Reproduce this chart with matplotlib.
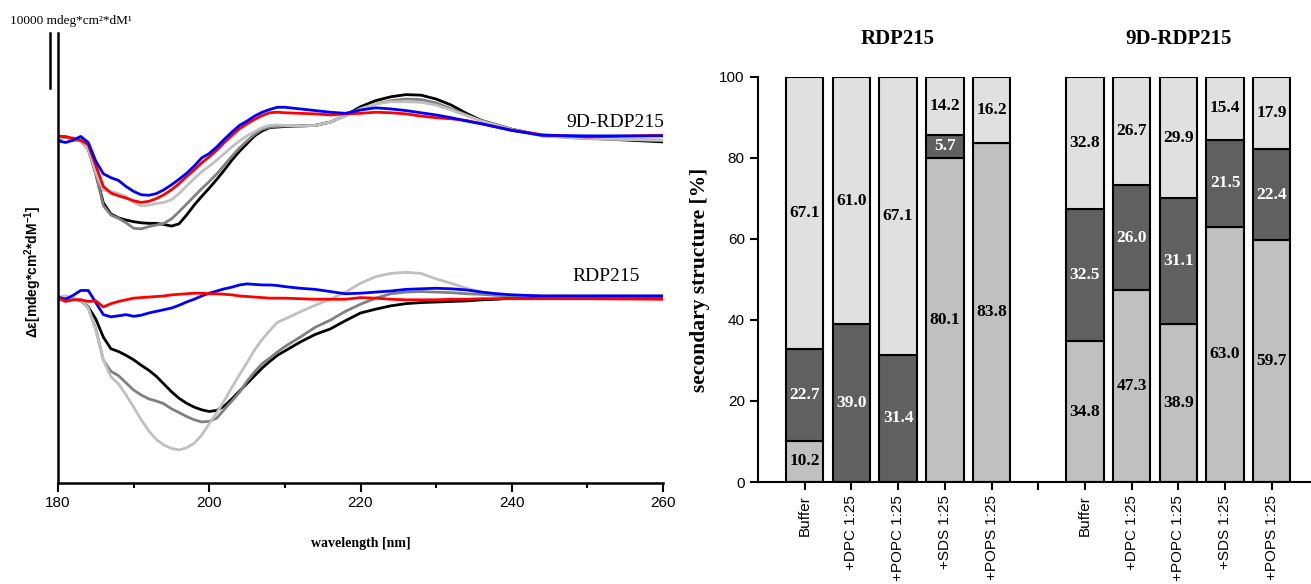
import matplotlib
matplotlib.use('Agg')
import matplotlib.pyplot as plt
from matplotlib.ticker import MultipleLocator

plt.rcParams['font.family'] = ['Liberation Sans', 'DejaVu Sans']
plt.rcParams['mathtext.fontset'] = 'custom'
plt.rcParams['mathtext.rm'] = 'Liberation Sans'
plt.rcParams['mathtext.bf'] = 'Liberation Sans:bold'
SERIF = ['Liberation Serif', 'DejaVu Serif']

# CD spectra, values in 1000 mdeg*cm2*dM-1 (relative to each group's baseline)
wavelength = [180, 181, 182, 183, 184, 185, 186, 187, 188, 189, 190, 191, 192, 193, 194,
              195, 196, 197, 198, 199, 200, 201, 202, 203, 204, 205, 206, 207, 208, 209,
              210, 212, 214, 216, 218, 220, 222, 224, 226, 228, 230, 232, 234, 236, 238,
              240, 244, 250, 260]

rdp_black = [-0.3, 0, -0.3, -0.6, -1.8, -4, -7.3, -9.4, -9.9, -10.6, -11.4, -12.4, -13.3, -14.4, -15.8,
             -17.2, -18.4, -19.3, -20, -20.5, -20.8, -20.6, -19.8, -18.5, -17.1, -15.7, -14.3, -12.9, -11.7, -10.6,
             -9.8, -8.2, -6.8, -5.8, -4.3, -2.9, -2.2, -1.6, -1.2, -1, -0.9, -0.8, -0.7, -0.5, -0.4,
             -0.2, -0.2, -0.2, -0.2]
rdp_dgray = [-0.3, 0, -0.3, -0.6, -2, -5.8, -11.5, -13.5, -14.3, -15.6, -16.9, -17.8, -18.5, -18.9, -19.4,
             -20.3, -21, -21.7, -22.3, -22.7, -22.6, -22, -20.4, -18.9, -17.3, -15.3, -13.6, -12.1, -11.1, -10,
             -9, -7.3, -5.5, -4.2, -2.6, -1.3, -0.2, 0.6, 0.9, 1, 0.9, 0.8, 0.6, 0.5, 0.3,
             0.2, 0.2, 0.2, 0.2]
rdp_lgray = [0, 0.2, -0.2, -0.4, -2, -6, -11.5, -14.5, -15.8, -17.8, -20, -22.3, -24.3, -25.9, -26.9,
             -27.5, -27.8, -27.4, -26.6, -25.1, -23, -21, -18.8, -16.4, -14.1, -11.9, -9.6, -7.7, -6.1, -4.6,
             -4, -2.7, -1.5, -0.4, 0.9, 2.5, 3.7, 4.3, 4.5, 4.3, 3.3, 2.5, 1.6, 0.9, 0.6,
             0.4, 0.2, 0.2, 0.2]
rdp_blue = [0, -0.4, 0.3, 1.2, 1.2, -1, -3.2, -3.6, -3.4, -3.2, -3.5, -3.3, -2.9, -2.6, -2.3,
            -2, -1.5, -0.9, -0.4, 0.2, 0.7, 1.1, 1.5, 1.8, 2.2, 2.4, 2.3, 2.2, 2.2, 2.1,
            1.9, 1.6, 1.4, 1, 0.6, 0.7, 0.9, 1.1, 1.4, 1.5, 1.6, 1.5, 1.3, 0.9, 0.6,
            0.4, 0.2, 0.2, 0.2]
rdp_red = [-0.2, -0.8, -0.5, -0.5, -0.8, -0.7, -1.8, -1.2, -0.8, -0.5, -0.2, -0.1, 0, 0.1, 0.2,
           0.4, 0.5, 0.6, 0.7, 0.7, 0.6, 0.6, 0.5, 0.4, 0.2, 0.1, 0, -0.1, -0.2, -0.2,
           -0.2, -0.3, -0.4, -0.4, -0.4, -0.1, -0.2, -0.4, -0.5, -0.5, -0.5, -0.4, -0.4, -0.3, -0.3,
           -0.3, -0.3, -0.3, -0.4]

d9_black = [0, 0.3, -0.3, -0.4, -2, -6.5, -11.8, -13.8, -14.5, -14.9, -15.2, -15.4, -15.5, -15.5, -15.7,
            -16, -15.6, -14, -12.2, -10.6, -9.1, -7.5, -5.8, -4, -2.4, -1, 0.4, 1.3, 1.9, 2,
            2.1, 2.2, 2.3, 2.9, 4.1, 5.7, 6.8, 7.5, 7.9, 7.8, 7.1, 6, 4.5, 3.2, 2.4,
            1.6, 0.5, 0, -0.7]
d9_dgray = [-0.3, 0.2, -0.3, -0.5, -2, -6.5, -12.3, -14, -14.6, -15.4, -16.4, -16.5, -16.1, -15.8, -15.5,
            -14.7, -13.4, -12, -10.6, -9.2, -7.9, -6.5, -4.9, -3.3, -1.8, -0.5, 0.7, 1.6, 2, 2.1,
            2.2, 2.2, 2.3, 2.9, 4.1, 5.3, 6.2, 6.8, 7.1, 7, 6.4, 5.3, 4.2, 3.1, 2.4,
            1.6, 0.4, -0.1, -0.4]
d9_lgray = [0, 0.2, -0.2, -0.4, -2, -6.3, -9.5, -9.7, -10.1, -10.6, -11.7, -12.3, -12.2, -11.9, -11.7,
            -11.2, -10.1, -8.7, -7.4, -6.1, -5.1, -4, -2.8, -1.6, -0.5, 0.4, 1.2, 1.9, 2.3, 2.4,
            2.3, 2.2, 2.3, 2.9, 4.1, 5.3, 6.2, 6.6, 6.6, 6.5, 6, 5.1, 4.1, 3.1, 2.3,
            1.5, 0.4, -0.1, -0.4]
d9_blue = [-0.5, -0.8, -0.4, 0.3, -0.8, -4.2, -6.5, -7.2, -7.7, -8.8, -9.7, -10.3, -10.4, -10.1, -9.4,
           -8.5, -7.5, -6.4, -5.1, -3.6, -2.8, -1.6, -0.2, 1.1, 2.3, 3.1, 4, 4.7, 5.2, 5.6,
           5.6, 5.3, 5, 4.7, 4.5, 5.1, 5.5, 5.3, 5, 4.6, 4.2, 3.7, 3.1, 2.6, 2,
           1.4, 0.5, 0.4, 0.4]
d9_red = [0.4, 0.2, 0, -0.4, -1.2, -5, -8.8, -10, -10.5, -10.9, -11.4, -11.7, -11.5, -11, -10.3,
          -9.4, -8.3, -7, -5.8, -4.5, -3.4, -2.2, -0.8, 0.5, 1.7, 2.6, 3.4, 4.1, 4.6, 4.7,
          4.6, 4.5, 4.4, 4.2, 4.4, 4.5, 4.7, 4.6, 4.4, 4, 3.7, 3.5, 3.2, 2.6, 2,
          1.4, 0.6, 0.2, 0.5]

# secondary structure [%]
categories = ['Buffer', '+DPC 1:25', '+POPC 1:25', '+SDS 1:25', '+POPS 1:25']
rdp_bottom = [10.2, 0, 0, 80.1, 83.8]
rdp_mid = [22.7, 39.0, 31.4, 5.7, 0]
rdp_top = [67.1, 61.0, 67.1, 14.2, 16.2]
d9_bottom = [34.8, 47.3, 38.9, 63.0, 59.7]
d9_mid = [32.5, 26.0, 31.1, 21.5, 22.4]
d9_top = [32.8, 26.7, 29.9, 15.4, 17.9]

W, H = 1311, 584
fig = plt.figure(figsize=(W / 100, H / 100), dpi=100)

# ---------- left: CD spectra ----------
ax1 = fig.add_axes([58 / W, 1 - 483 / H, 605 / W, 450 / H])
rdp_base = 33.8
d9_base = 62.7
grays = ['#000000', '#808080', '#c0c0c0']
for vals, c in zip([rdp_black, rdp_dgray, rdp_lgray, rdp_blue, rdp_red],
                   grays + ['#0000ff', '#ff0000']):
    ax1.plot(wavelength, [rdp_base + v for v in vals], color=c, lw=2.0)
for vals, c in zip([d9_black, d9_dgray, d9_lgray, d9_red, d9_blue],
                   grays + ['#ff0000', '#0000ff']):
    ax1.plot(wavelength, [d9_base + v for v in vals], color=c, lw=2.0)

ax1.set_xlim(180, 260)
ax1.set_ylim(0, 81.8)
ax1.spines['top'].set_visible(False)
ax1.spines['right'].set_visible(False)
ax1.spines['left'].set_linewidth(1.8)
ax1.spines['bottom'].set_linewidth(1.8)
ax1.set_yticks([])
ax1.xaxis.set_major_locator(MultipleLocator(20))
ax1.xaxis.set_minor_locator(MultipleLocator(10))
ax1.tick_params(axis='x', which='major', length=6.5, width=1.5, labelsize=11, pad=3)
ax1.tick_params(axis='x', which='minor', length=3.5, width=1.5)
ax1.set_xlabel('wavelength [nm]', family=SERIF, fontweight='bold', fontsize=10, labelpad=19)

# scale bar: 10000 mdeg*cm2*dM-1
ax1.plot([178.94, 178.94], [81.8, 71.8], color='k', lw=1.8, clip_on=False)
fig.text(10 / W, 1 - 21 / H, '10000 mdeg*cm²*dM¹', family=SERIF, fontsize=9.5,
         ha='left', va='center')
ax1.text(253.7, 65.6, '9D-RDP215', family=SERIF, fontsize=14, ha='center', va='center')
ax1.text(252.5, 37.5, 'RDP215', family=SERIF, fontsize=14, ha='center', va='center')
fig.text(33 / W, 1 - 272 / H, r'Δε[mdeg*cm$^{\mathbf{2}}$*dM$^{\mathbf{-1}}$]',
         rotation=90, fontweight='bold', fontsize=10, ha='center', va='center')

# ---------- right: stacked bars ----------
ax2 = fig.add_axes([758 / W, 1 - 482 / H, (W - 758) / W, 405 / H])
c_bottom, c_mid, c_top = '#c0c0c0', '#606060', '#e0e0e0'
groups = [(0, rdp_bottom, rdp_mid, rdp_top, 'RDP215'),
          (6, d9_bottom, d9_mid, d9_top, '9D-RDP215')]
for start, bot, mid, top, title in groups:
    xs = [start + i for i in range(len(categories))]
    rest = [100 - b - m for b, m in zip(bot, mid)]
    ax2.bar(xs, bot, width=0.8, color=c_bottom, edgecolor='k', linewidth=1.5)
    ax2.bar(xs, mid, width=0.8, bottom=bot, color=c_mid, edgecolor='k', linewidth=1.5)
    ax2.bar(xs, rest, width=0.8, bottom=[b + m for b, m in zip(bot, mid)],
            color=c_top, edgecolor='k', linewidth=1.5)
    for x, b, m, t, r in zip(xs, bot, mid, top, rest):
        if b > 0:
            ax2.text(x, b / 2, f'{b:.1f}', family=SERIF, fontweight='bold', fontsize=12.5,
                     ha='center', va='center', color='k')
        if m > 0:
            ax2.text(x, b + m / 2, f'{m:.1f}', family=SERIF, fontweight='bold', fontsize=12.5,
                     ha='center', va='center', color='white')
        ax2.text(x, b + m + r / 2, f'{t:.1f}', family=SERIF, fontweight='bold', fontsize=12.5,
                 ha='center', va='center', color='k')
    ax2.text(start + 2, 109.5, title, family=SERIF, fontweight='bold', fontsize=15,
             ha='center', va='center')

ax2.set_xlim(-1.0, 10.84)
ax2.set_ylim(0, 100)
ax2.set_xticks(range(11))
ax2.set_xticklabels(categories + [''] + categories, rotation=90, fontsize=11)
ax2.set_yticks(range(0, 101, 20))
ax2.tick_params(axis='both', length=6, width=1.5, labelsize=11)
ax2.spines['top'].set_visible(False)
ax2.spines['right'].set_visible(False)
ax2.spines['left'].set_linewidth(1.5)
ax2.spines['bottom'].set_linewidth(1.5)
ax2.set_ylabel('secondary structure [%]', family=SERIF, fontweight='bold', fontsize=15.5,
               labelpad=7)

fig.savefig('out.png', dpi=100)
